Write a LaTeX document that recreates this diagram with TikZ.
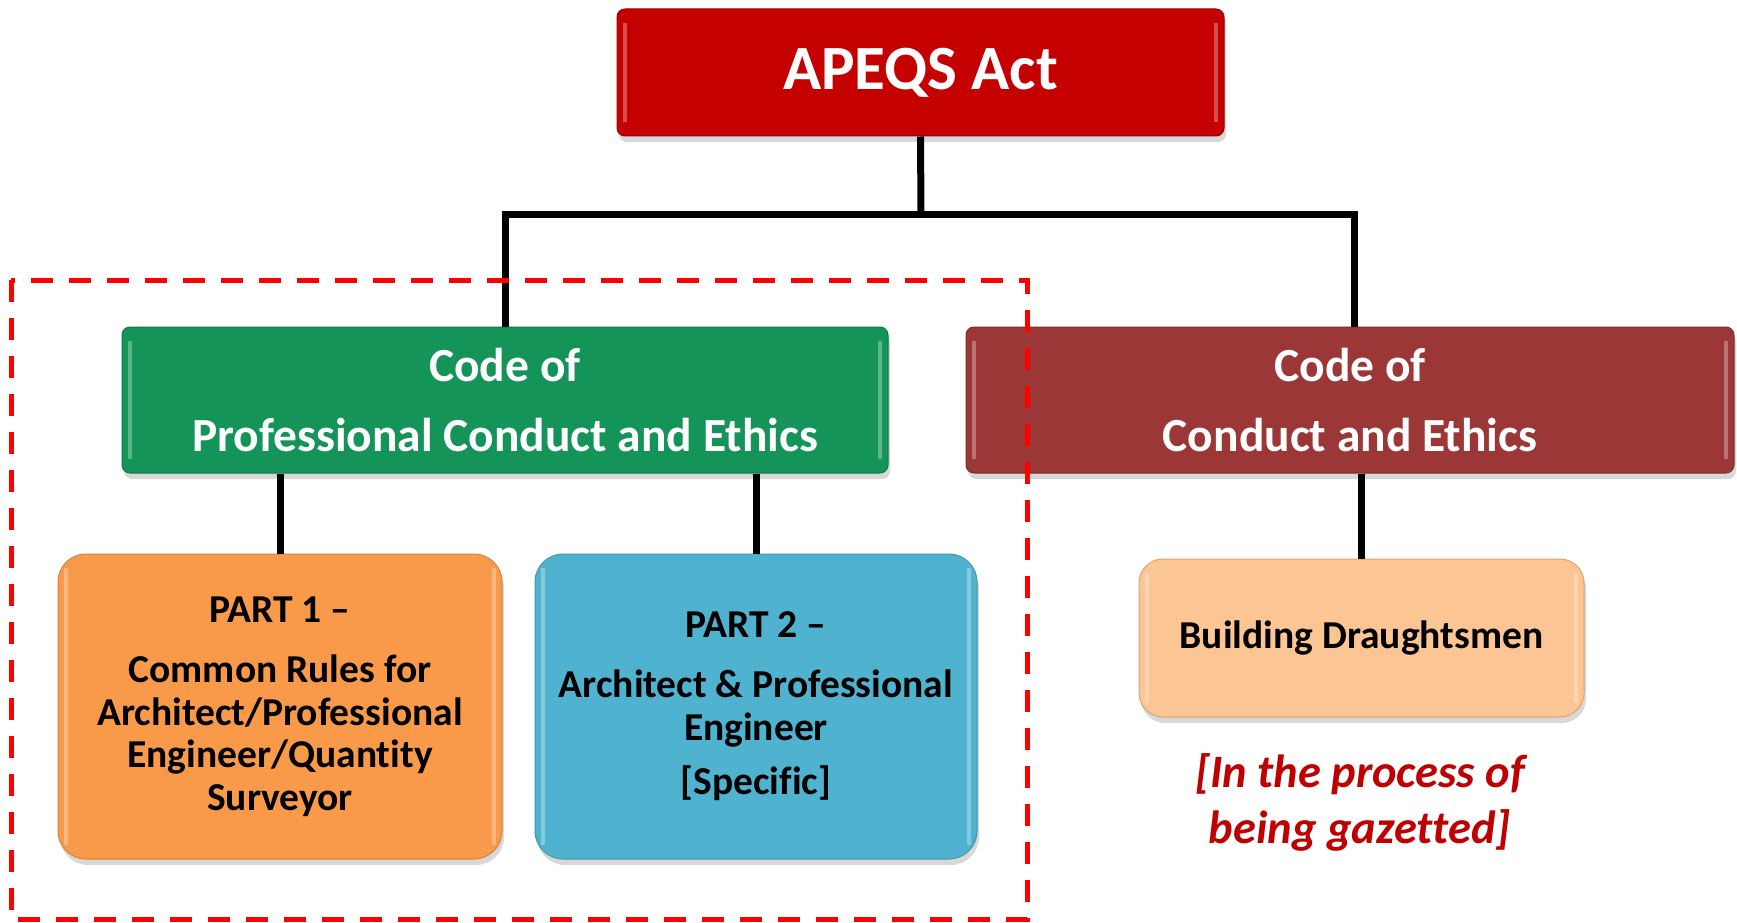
\documentclass[tikz,border=0pt]{standalone}
\usepackage{fontspec}
\setmainfont{Carlito}[Ligatures=NoCommon]
\usetikzlibrary{shadows}
\definecolor{actred}{HTML}{C40000}
\definecolor{codegreen}{HTML}{15945A}
\definecolor{codebrown}{HTML}{9B3837}
\definecolor{partorange}{HTML}{F99A4A}
\definecolor{partblue}{HTML}{4FB2CE}
\definecolor{peach}{HTML}{FBC594}
\definecolor{notered}{HTML}{BE0000}
\definecolor{dashred}{HTML}{FF0000}
\tikzset{
  bevel/.style={path picture={
    \draw[white, opacity=.3, line width=4pt]
      ([xshift=8pt,yshift=-14pt]path picture bounding box.north west) --
      ([xshift=8pt,yshift=14pt]path picture bounding box.south west);
    \draw[white, opacity=.3, line width=4pt]
      ([xshift=-8pt,yshift=-14pt]path picture bounding box.north east) --
      ([xshift=-8pt,yshift=14pt]path picture bounding box.south east);
  }},
  topbox/.style={fill=#1, draw=#1!80!black, line width=1pt, rounded corners=8pt,
    inner sep=0pt, align=center, text=white,
    drop shadow={shadow xshift=2pt, shadow yshift=-6pt, opacity=.3},
    bevel},
  partbox/.style={fill=#1, draw=#1!85!black, line width=1pt, rounded corners=28pt,
    inner sep=0pt, align=center, text=black,
    drop shadow={shadow xshift=2pt, shadow yshift=-6pt, opacity=.3},
    bevel},
  conn/.style={black, line width=7pt},
  groupframe/.style={dashred, line width=5pt, dash pattern=on 22pt off 16pt},
  note/.style={text=notered, align=center, inner sep=0pt}
}
\begin{document}
\begin{tikzpicture}[x=1pt, y=-1pt]
\useasboundingbox (0,0) rectangle (1737,923);
\fill[white] (0,0) rectangle (1737,923);

\node[topbox=actred, minimum width=607pt, minimum height=127pt,
  font=\bfseries\fontsize{63}{70}\selectfont]
  (apeqs) at (920.5,72.5) {APEQS Act};

\node[topbox=codegreen, minimum width=766pt, minimum height=146pt,
  font=\bfseries\fontsize{47.5}{70}\selectfont]
  (green) at (505,400) {Code of\\ Professional Conduct and Ethics};

\node[topbox=codebrown, minimum width=768pt, minimum height=146pt,
  font=\bfseries\fontsize{47.5}{70}\selectfont]
  (brown) at (1350,400) {Code of\\ Conduct and Ethics};

\node[partbox=partorange, minimum width=444pt, minimum height=305pt,
  font=\bfseries\fontsize{39.5}{42.5}\selectfont]
  (orange) at (280,706.5) {PART 1 –\\[18pt] Common Rules for\\ Architect/Professional\\ Engineer/Quantity\\ Surveyor};

\node[partbox=partblue, minimum width=442pt, minimum height=305pt,
  font=\bfseries\fontsize{39.5}{43}\selectfont]
  (blue) at (756,706.5) {PART 2 –\\[17pt] Architect \& Professional\\ Engineer\\[11pt] [Specific]};

\node[partbox=peach, rounded corners=24pt, minimum width=445pt, minimum height=158pt,
  font=\bfseries\fontsize{39.5}{43}\selectfont]
  (peachbox) at (1361.5,638) {Building Draughtsmen};

\node[note, font=\bfseries\itshape\fontsize{46.5}{56}\selectfont]
  (gazette) at (1360,802) {[In the process of\\ being gazetted]};

\coordinate (bus) at (921,214);
\draw[conn] (apeqs.south) -- (bus);
\draw[conn] (green.north) |- (bus) -| ([xshift=4pt]brown.north);
\draw[conn] (green.south -| orange.north) -- (orange.north);
\draw[conn] (green.south -| blue.north) -- (blue.north);
\draw[conn] (brown.south -| peachbox.north) -- (peachbox.north);

\draw[groupframe] (11,280) rectangle (1027,919);
\end{tikzpicture}
\end{document}
